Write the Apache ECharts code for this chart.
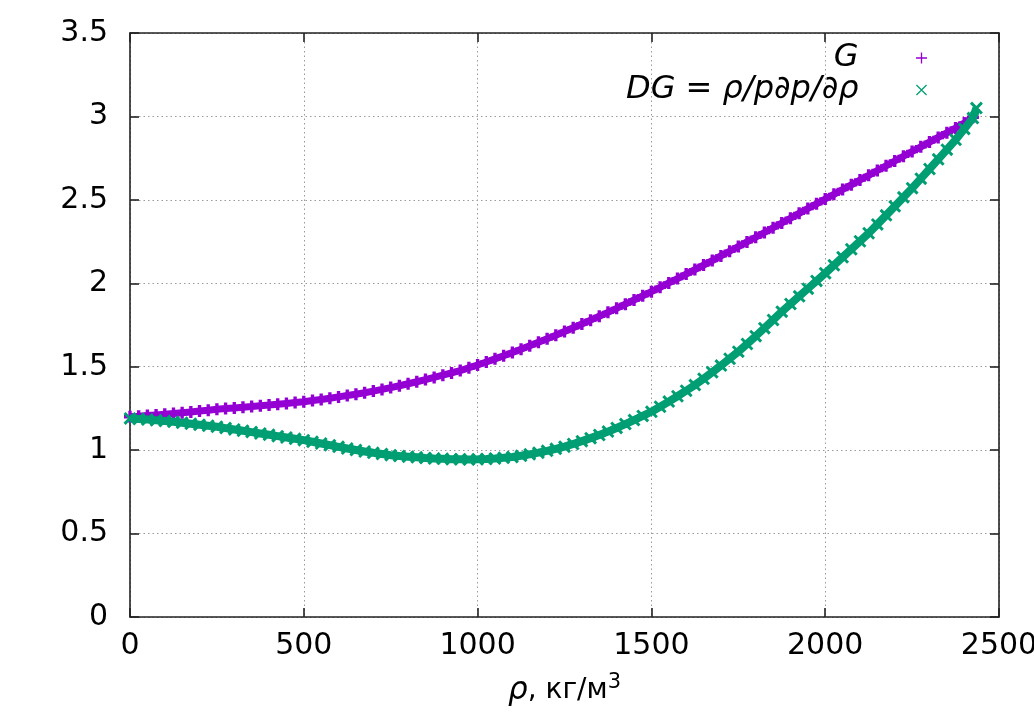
<!DOCTYPE html>
<html>
<head>
<meta charset="utf-8">
<script src="https://cdn.jsdelivr.net/npm/echarts@6/dist/echarts.min.js"></script>
<style>
html,body{margin:0;padding:0;background:#fff;}
#c{width:1034px;height:717px;}
</style>
</head>
<body>
<div id="c"></div>
<script>
// density rho, kg/m3
var rho = [0,25,50,75,100,125,150,175,200,225,250,275,300,325,350,375,400,425,450,475,500,525,550,575,600,625,650,675,700,725,750,775,800,825,850,875,900,925,950,975,1000,1025,1050,1075,1100,1125,1150,1175,1200,1225,1250,1275,1300,1325,1350,1375,1400,1425,1450,1475,1500,1525,1550,1575,1600,1625,1650,1675,1700,1725,1750,1775,1800,1825,1850,1875,1900,1925,1950,1975,2000,2025,2050,2075,2100,2125,2150,2175,2200,2225,2250,2275,2300,2325,2350,2375,2400,2425];
// G values
var gVals = [1.200,1.203,1.207,1.211,1.215,1.219,1.224,1.229,1.234,1.239,1.245,1.249,1.253,1.257,1.261,1.266,1.270,1.275,1.280,1.285,1.290,1.297,1.304,1.311,1.319,1.327,1.335,1.344,1.354,1.364,1.375,1.386,1.398,1.410,1.423,1.436,1.449,1.463,1.477,1.494,1.510,1.528,1.547,1.566,1.585,1.605,1.625,1.646,1.667,1.689,1.711,1.733,1.756,1.779,1.802,1.826,1.850,1.875,1.900,1.925,1.950,1.976,2.002,2.028,2.055,2.082,2.109,2.136,2.164,2.192,2.220,2.248,2.276,2.304,2.333,2.361,2.390,2.419,2.448,2.476,2.505,2.533,2.562,2.590,2.619,2.647,2.676,2.704,2.733,2.761,2.790,2.818,2.846,2.874,2.902,2.931,2.961,2.995];
// DG values
var dgVals = [1.190,1.187,1.183,1.179,1.175,1.170,1.164,1.158,1.152,1.146,1.140,1.132,1.124,1.116,1.108,1.100,1.092,1.084,1.076,1.068,1.060,1.050,1.040,1.030,1.020,1.010,1.001,0.992,0.984,0.977,0.970,0.965,0.961,0.957,0.953,0.950,0.948,0.946,0.945,0.944,0.945,0.947,0.950,0.954,0.959,0.966,0.975,0.985,0.996,1.008,1.021,1.037,1.054,1.072,1.091,1.111,1.133,1.156,1.180,1.205,1.230,1.260,1.291,1.323,1.356,1.390,1.428,1.467,1.507,1.548,1.590,1.636,1.683,1.731,1.780,1.830,1.876,1.922,1.968,2.014,2.060,2.108,2.156,2.204,2.252,2.300,2.353,2.407,2.461,2.515,2.570,2.627,2.685,2.743,2.801,2.860,2.925,2.990];
var dgExtraRho = [2435];
var dgExtraVals = [3.05];
var xTicks = [0,500,1000,1500,2000,2500];
var yTicks = [0,0.5,1,1.5,2,2.5,3,3.5];
var seriesNames = ['G', 'DG = ρ/p∂p/∂ρ'];

function pairs(xs, ys){ var out=[]; for(var i=0;i<xs.length;i++) out.push([xs[i], ys[i]]); return out; }
var gData = pairs(rho, gVals);
var dgData = pairs(rho, dgVals).concat(pairs(dgExtraRho, dgExtraVals));

var PLUS = 'path://M3.6,0h2.8v10h-2.8z M0,3.6h10v2.8h-10z';
var CROSS = 'path://M0,1.6L1.6,0L10,8.4L8.4,10Z M8.4,0L10,1.6L1.6,10L0,8.4Z';
var PLUS_THIN = 'path://M4.4,0h1.2v10h-1.2z M0,4.4h10v1.2h-10z';
var CROSS_THIN = 'path://M0,0.8L0.8,0L10,9.2L9.2,10Z M9.2,0L10,0.8L0.8,10L0,9.2Z';
var FONT = 'DejaVu Sans';
var PURPLE = '#9400d3', GREEN = '#009e73';

var chart = echarts.init(document.getElementById('c'), null, {renderer:'canvas'});
var gridLine = {show:true, lineStyle:{color:'#9a9a9a', type:[1.5,3], width:1}};
var frame = {show:true, onZero:false, lineStyle:{color:'#222', width:1.6}};
var ticks = {show:true, inside:true, length:9, lineStyle:{color:'#222', width:1.6}};
chart.setOption({
  backgroundColor:'#ffffff',
  animation:false,
  grid:{left:130, right:35, top:33, bottom:100, containLabel:false, outerBoundsMode:'none'},
  legend:{
    orient:'vertical', right:102, top:37, align:'right',
    itemWidth:116, itemHeight:11, itemGap:0,
    textStyle:{fontFamily:FONT, fontSize:32, fontStyle:'italic', color:'#000'},
    data:[{name:seriesNames[0], icon:PLUS_THIN},{name:seriesNames[1], icon:CROSS_THIN}]
  },
  xAxis:[{
    type:'value', min:xTicks[0], max:xTicks[xTicks.length-1], interval:500,
    name:'{i|ρ}, кг/м{s|3}', nameLocation:'middle', nameGap:55,
    nameTextStyle:{fontFamily:FONT, fontSize:28, color:'#000',
      rich:{i:{fontFamily:FONT, fontSize:31, fontStyle:'italic', color:'#000'},
            s:{fontFamily:FONT, fontSize:21, verticalAlign:'top', color:'#000', padding:[0,0,16,0]}}},
    axisLine:frame, axisTick:ticks,
    axisLabel:{fontFamily:FONT, fontSize:30, color:'#000', margin:14,
      formatter:function(v){ return String(v); }},
    splitLine:gridLine
  },{
    type:'value', position:'top', min:xTicks[0], max:xTicks[xTicks.length-1], interval:500,
    axisLine:frame, axisTick:ticks, axisLabel:{show:false}, splitLine:{show:false}
  }],
  yAxis:[{
    type:'value', min:yTicks[0], max:yTicks[yTicks.length-1], interval:0.5,
    axisLine:frame, axisTick:ticks,
    axisLabel:{fontFamily:FONT, fontSize:30, color:'#000', margin:22,
      formatter:function(v){ return String(v); }},
    splitLine:gridLine
  },{
    type:'value', position:'right', min:yTicks[0], max:yTicks[yTicks.length-1], interval:0.5,
    axisLine:frame, axisTick:ticks, axisLabel:{show:false}, splitLine:{show:false}
  }],
  series:[
    {name:'G-band', type:'line', data:gData, showSymbol:false, silent:true,
     lineStyle:{color:PURPLE, width:7}, z:1},
    {name:seriesNames[0], type:'scatter', data:gData, symbol:PLUS, symbolSize:12,
     itemStyle:{color:PURPLE, opacity:1}, z:2},
    {name:'DG-band', type:'line', data:dgData, showSymbol:false, silent:true,
     lineStyle:{color:GREEN, width:8}, z:3},
    {name:seriesNames[1], type:'scatter', data:dgData, symbol:CROSS, symbolSize:13,
     itemStyle:{color:GREEN, opacity:1}, z:4}
  ]
});
</script>
</body>
</html>
